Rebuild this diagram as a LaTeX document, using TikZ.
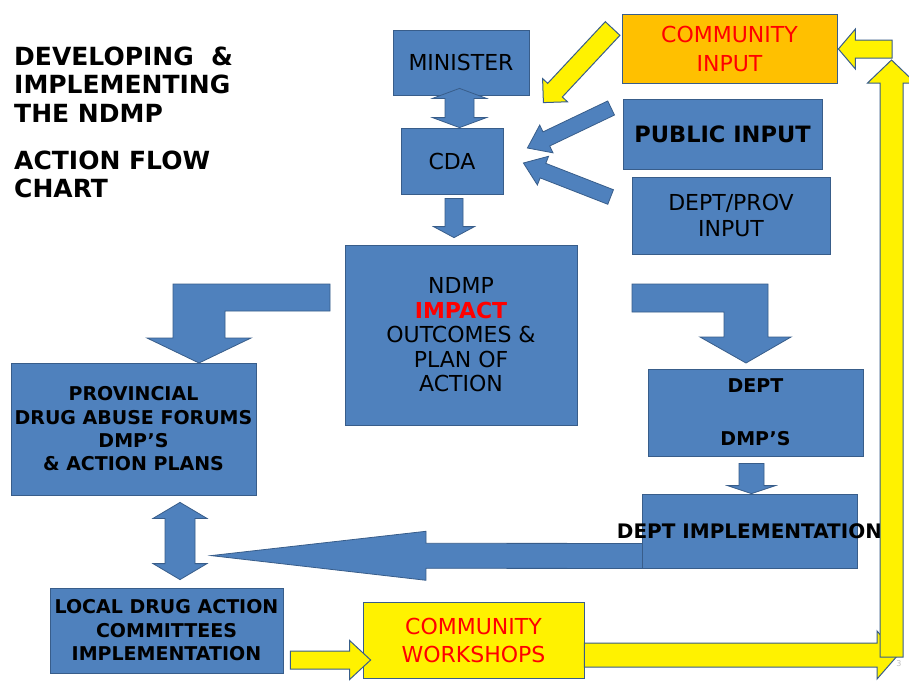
\documentclass[tikz,border=0pt]{standalone}
\usepackage{fontspec}
\setmainfont{DejaVu Sans}
\usepackage{tikz}
\usetikzlibrary{calc}
\definecolor{boxblue}{HTML}{4F81BD}
\definecolor{edgeblue}{HTML}{385D8A}
\definecolor{comorange}{HTML}{FFC000}
\definecolor{txtred}{HTML}{FF0000}
\tikzstyle{box}=[draw=edgeblue,fill=boxblue,line width=0.8pt,inner sep=0pt,align=center]
\tikzstyle{normtxt}=[font=\fontsize{22}{26}\selectfont]
\tikzstyle{boldtxt}=[font=\bfseries\fontsize{19}{23.5}\selectfont]
\tikzstyle{headtxt}=[font=\bfseries\fontsize{25}{28.5}\selectfont,align=left,inner sep=0pt,anchor=west]
\tikzstyle{barrow}=[draw=edgeblue,fill=boxblue,line width=0.8pt]
\tikzstyle{yarrow}=[draw=edgeblue,fill=yellow,line width=1pt]
% block arrow: tail, tip, half shaft, half head, head length
\newcommand{\blockarrow}[6][]{%
  \coordinate (ba-t) at (#2);
  \coordinate (ba-h) at (#3);
  \coordinate (ba-b) at ($(ba-h)!#6!(ba-t)$);
  \draw[#1] ($(ba-t)!#4!90:(ba-h)$) -- ($(ba-b)!#4!90:(ba-h)$) -- ($(ba-b)!#5!90:(ba-h)$)
    -- (ba-h) -- ($(ba-b)!#5!-90:(ba-h)$) -- ($(ba-b)!#4!-90:(ba-h)$) -- ($(ba-t)!#4!-90:(ba-h)$) -- cycle;
}
% block arrow with two heads
\newcommand{\dblockarrow}[6][]{%
  \coordinate (ba-t) at (#2);
  \coordinate (ba-h) at (#3);
  \coordinate (ba-a) at ($(ba-t)!#6!(ba-h)$);
  \coordinate (ba-b) at ($(ba-h)!#6!(ba-t)$);
  \draw[#1] (ba-t) -- ($(ba-a)!#5!90:(ba-h)$) -- ($(ba-a)!#4!90:(ba-h)$) -- ($(ba-b)!#4!90:(ba-h)$)
    -- ($(ba-b)!#5!90:(ba-h)$) -- (ba-h) -- ($(ba-b)!#5!-90:(ba-h)$) -- ($(ba-b)!#4!-90:(ba-h)$)
    -- ($(ba-a)!#4!-90:(ba-h)$) -- ($(ba-a)!#5!-90:(ba-h)$) -- cycle;
}

\begin{document}
\begin{tikzpicture}[x=1pt,y=-1pt]
\useasboundingbox[fill=white] (0,0) rectangle (909,680);

\node[headtxt] (title) at (14,84.5) {DEVELOPING~~\&\\IMPLEMENTING\\THE NDMP};
\node[headtxt] (subtitle) at (14,174.5) {ACTION FLOW\\CHART};

\node[box,normtxt,minimum width=136pt,minimum height=65pt] (minister) at (461,62.5) {MINISTER};
\node[box,normtxt,minimum width=102pt,minimum height=66pt] (cda) at (452,161) {CDA};
\node[box,normtxt,font=\fontsize{22}{24.5}\selectfont,minimum width=232pt,minimum height=180pt] (ndmp) at (461,335)
  {NDMP\\{\bfseries\color{txtred}IMPACT}\\OUTCOMES \&\\PLAN OF\\ACTION};
\node[box,normtxt,font=\fontsize{22}{29}\selectfont,fill=comorange,text=txtred,minimum width=215pt,minimum height=69pt] (comin) at (729.5,48.5) {COMMUNITY\\INPUT};
\node[box,font=\bfseries\fontsize{22.5}{26}\selectfont,minimum width=199pt,minimum height=70pt] (pubin) at (722.5,134) {PUBLIC INPUT};
\node[box,normtxt,minimum width=198pt,minimum height=77pt] (deptin) at (731,215.5) {DEPT/PROV\\INPUT};
\node[box,boldtxt,font=\bfseries\fontsize{19}{23.3}\selectfont,minimum width=245pt,minimum height=132pt] (prov) at (133.5,429)
  {PROVINCIAL\\DRUG ABUSE FORUMS\\DMP’S\\\& ACTION PLANS};
\node[box,boldtxt,minimum width=233pt,minimum height=85pt] (local) at (166.5,630.5) {LOCAL DRUG ACTION\\COMMITTEES\\IMPLEMENTATION};
\node[box,normtxt,font=\fontsize{22}{28}\selectfont,fill=yellow,text=txtred,minimum width=221pt,minimum height=76pt] (workshops) at (473.5,640) {COMMUNITY\\WORKSHOPS};
\node[box,boldtxt,font=\bfseries\fontsize{19}{26.5}\selectfont,minimum width=215pt,minimum height=87pt] (deptdmp) at (755.5,412.5) {DEPT\\[26.5pt]DMP’S};

% arrow under the dept implementation box
\blockarrow[barrow]{700,556}{$(local.north)+(44.5,-32)$}{12.5pt}{24.5pt}{215pt}
\node[box,minimum width=215pt,minimum height=74pt,label={[font=\bfseries\fontsize{20}{24}\selectfont]center:DEPT IMPLEMENTATION}] (deptimpl) at (749.5,531) {};

% blue arrows
\dblockarrow[barrow]{$(minister.south)+(-1.5,-7)$}{$(cda.north)+(7.5,0)$}{14.5pt}{27pt}{10pt}
\blockarrow[barrow]{$(cda.south)+(2,4)$}{$(ndmp.north)+(-7,-7)$}{9pt}{20.5pt}{11pt}
\blockarrow[barrow]{$(pubin.west)+(-11.5,-26)$}{$(cda.east)+(24,-13)$}{7.8pt}{15.4pt}{21pt}
\blockarrow[barrow]{$(deptin.west)+(-21,-18.5)$}{$(cda.east)+(20,2)$}{7.8pt}{15.4pt}{21pt}
\blockarrow[barrow]{$(deptdmp.south)+(-4,7)$}{$(deptimpl.north)+(2,0)$}{12.5pt}{24pt}{8pt}
\dblockarrow[barrow]{$(prov.south)+(46.5,7)$}{$(local.north)+(13.5,-8)$}{15pt}{27pt}{16pt}
\draw[barrow] (330,284) -- (173,284) -- (173,338) -- (147,338) -- (199,363) -- (251,338) -- (225,338) -- (225,311) -- (330,311) -- cycle;
\draw[barrow] (632,284) -- (768,284) -- (768,337) -- (791,337) -- (746,363) -- (700,337) -- (724,337) -- (724,312) -- (632,312) -- cycle;

% yellow loop
\coordinate (loopse) at (891.5,657);
\coordinate (loopne) at (891.5,60);
\blockarrow[yarrow]{$(comin.west)+(-9,-20)$}{$(cda.north east)+(40,-25)$}{10pt}{17pt}{17pt}
\blockarrow[yarrow]{$(local.east)+(7,29.5)$}{$(workshops.west)+(8,20)$}{9pt}{19.5pt}{21pt}
\blockarrow[yarrow]{$(workshops.east)+(0,15)$}{898,655}{12pt}{24pt}{21pt}
\blockarrow[yarrow]{892,49}{$(comin.east)+(1,0.5)$}{9pt}{20pt}{17pt}
\blockarrow[yarrow]{loopse}{loopne}{11.5pt}{24pt}{23pt}
\node[text=black!25,font=\fontsize{8}{8}\selectfont] (slideno) at (899,664) {3};

\end{tikzpicture}
\end{document}
